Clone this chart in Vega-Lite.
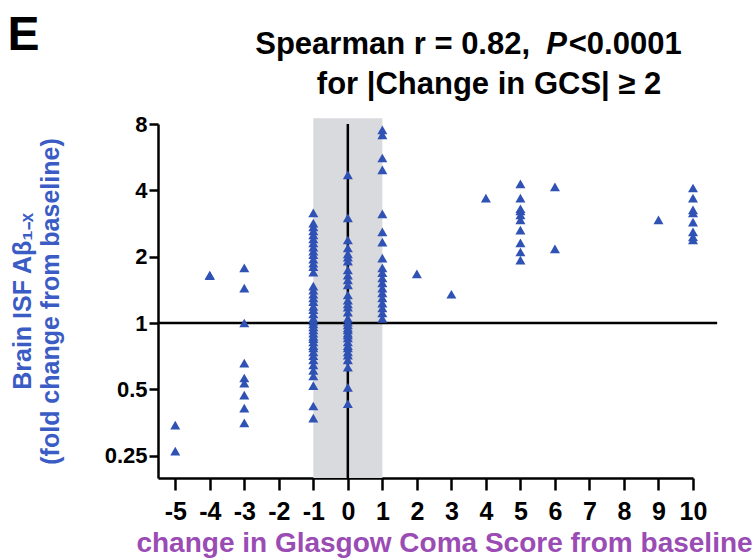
{
  "$schema": "https://vega.github.io/schema/vega-lite/v6.json",
  "width": 535,
  "height": 354,
  "autosize": {"type": "none"},
  "padding": {"left": 158, "top": 124, "right": 61, "bottom": 81},
  "background": "white",
  "config": {"view": {"stroke": null}, "font": "Liberation Sans"},
  "datasets": {
    "band": [{"gcs": -1, "gcs2": 1, "fold": 0.198, "fold2": 8.5}],
    "vline": [{"gcs": 0, "fold": 0.198, "fold2": 8}],
    "hline": [{"fold": 1, "gcs": -5.5, "gcs2": 10.7}],
    "panel": [{"label": "E", "gcs": -9.4, "fold": 20}],
    "line1a": [{"label": "Spearman r = 0.82,", "gcs": 5.28, "fold": 16.65}],
    "line1b": [{"label": "P", "gcs": 5.75, "fold": 16.65}],
    "line1c": [{"label": "<0.0001", "gcs": 6.4, "fold": 16.65}],
    "line2": [{"label": "for |Change in GCS| ≥ 2", "gcs": 4.09, "fold": 10.96}],
    "points": [
      {"gcs": -5, "fold": 0.344}, {"gcs": -5, "fold": 0.262},
      {"gcs": -4, "fold": 1.65}, {"gcs": -4, "fold": 1.64},
      {"gcs": -3, "fold": 1.78}, {"gcs": -3, "fold": 1.44}, {"gcs": -3, "fold": 1.0},
      {"gcs": -3, "fold": 0.658}, {"gcs": -3, "fold": 0.563}, {"gcs": -3, "fold": 0.534},
      {"gcs": -3, "fold": 0.471}, {"gcs": -3, "fold": 0.411}, {"gcs": -3, "fold": 0.352},
      {"gcs": -1, "fold": 3.16}, {"gcs": -1, "fold": 2.84}, {"gcs": -1, "fold": 2.73},
      {"gcs": -1, "fold": 2.62}, {"gcs": -1, "fold": 2.51}, {"gcs": -1, "fold": 2.41},
      {"gcs": -1, "fold": 2.31}, {"gcs": -1, "fold": 2.21}, {"gcs": -1, "fold": 2.12},
      {"gcs": -1, "fold": 2.04}, {"gcs": -1, "fold": 1.95}, {"gcs": -1, "fold": 1.87},
      {"gcs": -1, "fold": 1.8}, {"gcs": -1, "fold": 1.7}, {"gcs": -1, "fold": 1.47},
      {"gcs": -1, "fold": 1.41}, {"gcs": -1, "fold": 1.35}, {"gcs": -1, "fold": 1.3},
      {"gcs": -1, "fold": 1.25}, {"gcs": -1, "fold": 1.19}, {"gcs": -1, "fold": 1.15},
      {"gcs": -1, "fold": 1.1}, {"gcs": -1, "fold": 1.05}, {"gcs": -1, "fold": 1.02},
      {"gcs": -1, "fold": 0.99}, {"gcs": -1, "fold": 0.96}, {"gcs": -1, "fold": 0.93},
      {"gcs": -1, "fold": 0.9}, {"gcs": -1, "fold": 0.87}, {"gcs": -1, "fold": 0.85},
      {"gcs": -1, "fold": 0.82}, {"gcs": -1, "fold": 0.79}, {"gcs": -1, "fold": 0.77},
      {"gcs": -1, "fold": 0.74}, {"gcs": -1, "fold": 0.71}, {"gcs": -1, "fold": 0.68},
      {"gcs": -1, "fold": 0.645}, {"gcs": -1, "fold": 0.61}, {"gcs": -1, "fold": 0.575},
      {"gcs": -1, "fold": 0.52}, {"gcs": -1, "fold": 0.42}, {"gcs": -1, "fold": 0.37},
      {"gcs": 0, "fold": 4.7}, {"gcs": 0, "fold": 3.0}, {"gcs": 0, "fold": 2.38},
      {"gcs": 0, "fold": 2.19}, {"gcs": 0, "fold": 2.06}, {"gcs": 0, "fold": 1.99},
      {"gcs": 0, "fold": 1.91}, {"gcs": 0, "fold": 1.74}, {"gcs": 0, "fold": 1.65},
      {"gcs": 0, "fold": 1.57}, {"gcs": 0, "fold": 1.49}, {"gcs": 0, "fold": 1.34},
      {"gcs": 0, "fold": 1.27}, {"gcs": 0, "fold": 1.22}, {"gcs": 0, "fold": 1.18},
      {"gcs": 0, "fold": 1.12}, {"gcs": 0, "fold": 1.05}, {"gcs": 0, "fold": 1.01},
      {"gcs": 0, "fold": 0.98}, {"gcs": 0, "fold": 0.95}, {"gcs": 0, "fold": 0.93},
      {"gcs": 0, "fold": 0.9}, {"gcs": 0, "fold": 0.88}, {"gcs": 0, "fold": 0.855},
      {"gcs": 0, "fold": 0.82}, {"gcs": 0, "fold": 0.79}, {"gcs": 0, "fold": 0.77},
      {"gcs": 0, "fold": 0.74}, {"gcs": 0, "fold": 0.715}, {"gcs": 0, "fold": 0.68},
      {"gcs": 0, "fold": 0.63}, {"gcs": 0, "fold": 0.51}, {"gcs": 0, "fold": 0.43},
      {"gcs": 1, "fold": 7.52}, {"gcs": 1, "fold": 7.14}, {"gcs": 1, "fold": 5.61},
      {"gcs": 1, "fold": 4.95}, {"gcs": 1, "fold": 3.13}, {"gcs": 1, "fold": 2.59},
      {"gcs": 1, "fold": 2.33}, {"gcs": 1, "fold": 1.97}, {"gcs": 1, "fold": 1.78},
      {"gcs": 1, "fold": 1.69}, {"gcs": 1, "fold": 1.6}, {"gcs": 1, "fold": 1.52},
      {"gcs": 1, "fold": 1.44}, {"gcs": 1, "fold": 1.37}, {"gcs": 1, "fold": 1.3},
      {"gcs": 1, "fold": 1.23}, {"gcs": 1, "fold": 1.17}, {"gcs": 1, "fold": 1.11},
      {"gcs": 1, "fold": 1.05},
      {"gcs": 2, "fold": 1.67},
      {"gcs": 3, "fold": 1.35},
      {"gcs": 4, "fold": 3.69},
      {"gcs": 5, "fold": 4.28}, {"gcs": 5, "fold": 3.69}, {"gcs": 5, "fold": 3.3},
      {"gcs": 5, "fold": 3.23}, {"gcs": 5, "fold": 3.09}, {"gcs": 5, "fold": 2.94},
      {"gcs": 5, "fold": 2.64}, {"gcs": 5, "fold": 2.31}, {"gcs": 5, "fold": 2.1},
      {"gcs": 5, "fold": 1.93},
      {"gcs": 6, "fold": 4.15}, {"gcs": 6, "fold": 2.17},
      {"gcs": 9, "fold": 2.94},
      {"gcs": 10, "fold": 4.1}, {"gcs": 10, "fold": 3.69}, {"gcs": 10, "fold": 3.26},
      {"gcs": 10, "fold": 3.16}, {"gcs": 10, "fold": 2.87}, {"gcs": 10, "fold": 2.59},
      {"gcs": 10, "fold": 2.46}, {"gcs": 10, "fold": 2.38}
    ]
  },
  "encoding": {
    "x": {
      "field": "gcs",
      "type": "quantitative",
      "scale": {"domain": [-5.5, 10], "nice": false, "zero": false},
      "axis": {
        "values": [-5, -4, -3, -2, -1, 0, 1, 2, 3, 4, 5, 6, 7, 8, 9, 10],
        "labelExpr": "datum.value < 0 ? '-' + abs(datum.value) : '' + datum.value",
        "title": "change in Glasgow Coma Score from baseline",
        "titleColor": "#9a4cb4",
        "titleFont": "Liberation Sans",
        "titleFontSize": 28,
        "titleFontWeight": "bold",
        "titleX": 286,
        "titlePadding": 5,
        "labelFont": "Liberation Sans",
        "labelFontSize": 25,
        "labelFontWeight": "bold",
        "labelColor": "black",
        "labelPadding": 9,
        "labelFlush": false,
        "labelOverlap": false,
        "domainColor": "black",
        "domainWidth": 2.5,
        "tickColor": "black",
        "tickWidth": 2.5,
        "tickSize": 12,
        "grid": false
      }
    },
    "y": {
      "field": "fold",
      "type": "quantitative",
      "scale": {"type": "log", "base": 2, "domain": [0.198, 8], "nice": false},
      "axis": {
        "values": [0.25, 0.5, 1, 2, 4, 8],
        "format": "~g",
        "title": ["Brain ISF Aβ₁₋ₓ", "(fold change from baseline)"],
        "titleColor": "#3a5cc4",
        "titleFont": "Liberation Sans",
        "titleFontSize": 25,
        "titleFontWeight": "bold",
        "titleLineHeight": 28,
        "titleX": -123,
        "titleY": 177,
        "labelFont": "Liberation Sans",
        "labelFontSize": 22,
        "labelFontWeight": "bold",
        "labelColor": "black",
        "labelPadding": 2,
        "labelFlush": false,
        "labelOverlap": false,
        "domainColor": "black",
        "domainWidth": 2.5,
        "tickColor": "black",
        "tickWidth": 2.5,
        "tickSize": 9,
        "grid": false
      }
    }
  },
  "layer": [
    {
      "data": {"name": "band"},
      "mark": {"type": "rect", "color": "#d9dadd", "clip": false},
      "encoding": {"x2": {"field": "gcs2"}, "y2": {"field": "fold2"}}
    },
    {
      "data": {"name": "vline"},
      "mark": {"type": "rule", "color": "black", "strokeWidth": 2.5},
      "encoding": {"y2": {"field": "fold2"}}
    },
    {
      "data": {"name": "hline"},
      "mark": {"type": "rule", "color": "black", "strokeWidth": 2.5, "clip": false},
      "encoding": {"x2": {"field": "gcs2"}}
    },
    {
      "data": {"name": "points"},
      "mark": {"type": "point", "shape": "triangle-up", "filled": true, "size": 100, "color": "#2f52b4", "opacity": 1},
      "encoding": {}
    },
    {
      "data": {"name": "panel"},
      "mark": {"type": "text", "fontSize": 48, "fontWeight": "bold", "font": "Liberation Sans", "color": "black", "clip": false, "baseline": "middle", "align": "center"},
      "encoding": {"text": {"field": "label"}}
    },
    {
      "data": {"name": "line1a"},
      "mark": {"type": "text", "fontSize": 31, "fontWeight": "bold", "font": "Liberation Sans", "color": "black", "clip": false, "baseline": "alphabetic", "align": "right"},
      "encoding": {"text": {"field": "label"}}
    },
    {
      "data": {"name": "line1b"},
      "mark": {"type": "text", "fontSize": 31, "fontWeight": "bold", "fontStyle": "italic", "font": "Liberation Sans", "color": "black", "clip": false, "baseline": "alphabetic", "align": "left"},
      "encoding": {"text": {"field": "label"}}
    },
    {
      "data": {"name": "line1c"},
      "mark": {"type": "text", "fontSize": 31, "fontWeight": "bold", "font": "Liberation Sans", "color": "black", "clip": false, "baseline": "alphabetic", "align": "left"},
      "encoding": {"text": {"field": "label"}}
    },
    {
      "data": {"name": "line2"},
      "mark": {"type": "text", "fontSize": 31, "fontWeight": "bold", "font": "Liberation Sans", "color": "black", "clip": false, "baseline": "alphabetic", "align": "center"},
      "encoding": {"text": {"field": "label"}}
    }
  ]
}
